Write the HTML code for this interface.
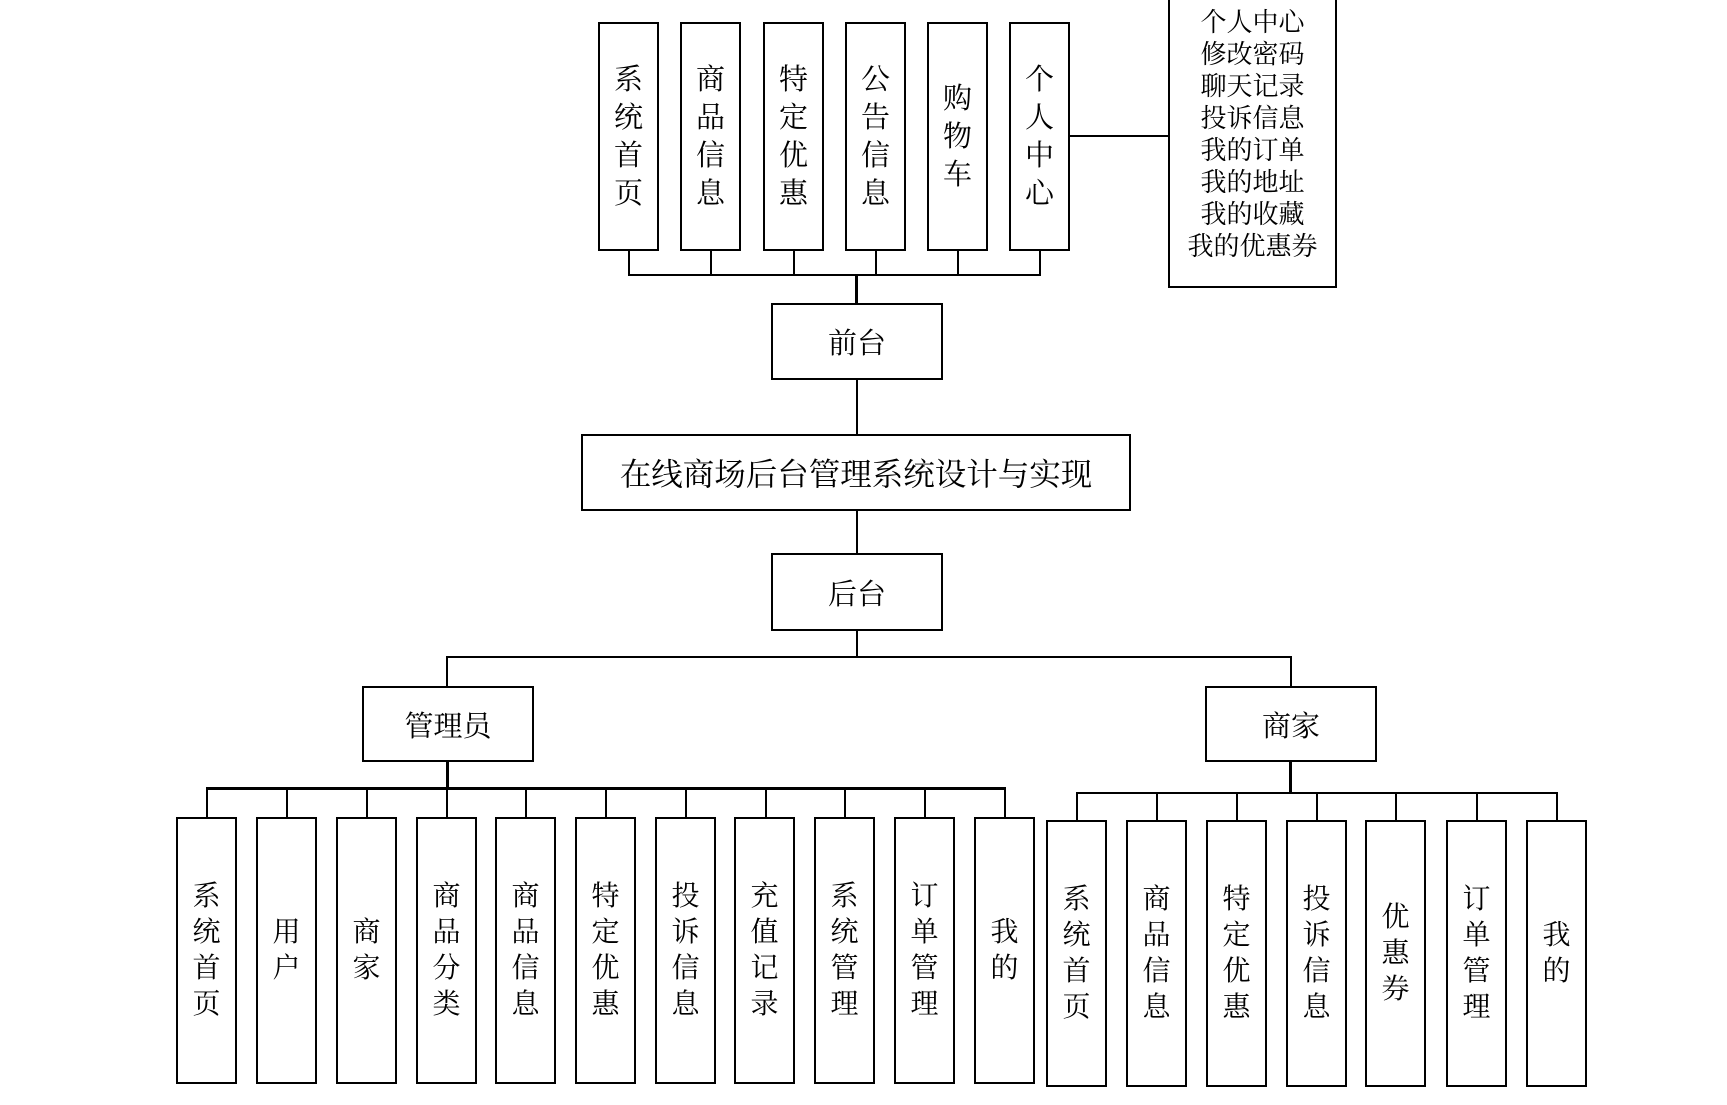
<!DOCTYPE html>
<html><head><meta charset="utf-8"><style>
body{margin:0;width:1727px;height:1105px;background:#fff;position:relative;overflow:hidden;font-family:"Liberation Serif","Noto Serif CJK SC",serif;color:#000}
.b{position:absolute;box-sizing:border-box;border:2px solid #000;display:flex;flex-direction:column;align-items:center;justify-content:center;text-align:center}
.l{position:absolute;background:#000}
.t{font-size:29px;line-height:38px;width:61px;height:229px;top:22px}
.a{font-size:28px;line-height:36px;width:61px;height:267px;top:817px}
.m{font-size:28px;line-height:36px;width:61px;height:267px;top:820px}
.h{font-size:29px}
</style></head><body>
<div class="b t" style="left:598px"><div>系</div><div>统</div><div>首</div><div>页</div></div>
<div class="b t" style="left:680px"><div>商</div><div>品</div><div>信</div><div>息</div></div>
<div class="b t" style="left:763px"><div>特</div><div>定</div><div>优</div><div>惠</div></div>
<div class="b t" style="left:845px"><div>公</div><div>告</div><div>信</div><div>息</div></div>
<div class="b t" style="left:927px"><div>购</div><div>物</div><div>车</div></div>
<div class="b t" style="left:1009px"><div>个</div><div>人</div><div>中</div><div>心</div></div>
<div class="b" style="left:1168px;top:-3px;width:169px;height:291px;font-size:26px;line-height:32px;justify-content:flex-start;padding-top:8px">
<div>个人中心</div><div>修改密码</div><div>聊天记录</div><div>投诉信息</div><div>我的订单</div><div>我的地址</div><div>我的收藏</div><div>我的优惠券</div></div>
<div class="l" style="left:1070px;top:135px;width:98px;height:2px"></div>
<div class="l" style="left:628px;top:250px;width:2px;height:25px"></div>
<div class="l" style="left:710px;top:250px;width:2px;height:25px"></div>
<div class="l" style="left:793px;top:250px;width:2px;height:25px"></div>
<div class="l" style="left:875px;top:250px;width:2px;height:25px"></div>
<div class="l" style="left:957px;top:250px;width:2px;height:25px"></div>
<div class="l" style="left:1039px;top:250px;width:2px;height:25px"></div>
<div class="l" style="left:628px;top:274px;width:413px;height:2px"></div>
<div class="l" style="left:855px;top:274px;width:3px;height:30px"></div>
<div class="b h" style="left:771px;top:303px;width:172px;height:77px">前台</div>
<div class="l" style="left:856px;top:379px;width:2px;height:56px"></div>
<div class="b" style="left:581px;top:434px;width:550px;height:77px;font-size:31.5px">在线商场后台管理系统设计与实现</div>
<div class="l" style="left:856px;top:510px;width:2px;height:44px"></div>
<div class="b h" style="left:771px;top:553px;width:172px;height:78px">后台</div>
<div class="l" style="left:856px;top:630px;width:2px;height:28px"></div>
<div class="l" style="left:446px;top:656px;width:846px;height:2px"></div>
<div class="l" style="left:446px;top:656px;width:2px;height:31px"></div>
<div class="l" style="left:1290px;top:656px;width:2px;height:31px"></div>
<div class="b h" style="left:362px;top:686px;width:172px;height:76px">管理员</div>
<div class="b h" style="left:1205px;top:686px;width:172px;height:76px">商家</div>
<div class="l" style="left:446px;top:761px;width:3px;height:28px"></div>
<div class="l" style="left:206px;top:787px;width:800px;height:3px"></div>
<div class="l" style="left:206px;top:788px;width:2px;height:30px"></div>
<div class="l" style="left:286px;top:788px;width:2px;height:30px"></div>
<div class="l" style="left:366px;top:788px;width:2px;height:30px"></div>
<div class="l" style="left:446px;top:788px;width:2px;height:30px"></div>
<div class="l" style="left:525px;top:788px;width:2px;height:30px"></div>
<div class="l" style="left:605px;top:788px;width:2px;height:30px"></div>
<div class="l" style="left:685px;top:788px;width:2px;height:30px"></div>
<div class="l" style="left:765px;top:788px;width:2px;height:30px"></div>
<div class="l" style="left:844px;top:788px;width:2px;height:30px"></div>
<div class="l" style="left:924px;top:788px;width:2px;height:30px"></div>
<div class="l" style="left:1004px;top:788px;width:2px;height:30px"></div>
<div class="b a" style="left:176px"><div>系</div><div>统</div><div>首</div><div>页</div></div>
<div class="b a" style="left:256px"><div>用</div><div>户</div></div>
<div class="b a" style="left:336px"><div>商</div><div>家</div></div>
<div class="b a" style="left:416px"><div>商</div><div>品</div><div>分</div><div>类</div></div>
<div class="b a" style="left:495px"><div>商</div><div>品</div><div>信</div><div>息</div></div>
<div class="b a" style="left:575px"><div>特</div><div>定</div><div>优</div><div>惠</div></div>
<div class="b a" style="left:655px"><div>投</div><div>诉</div><div>信</div><div>息</div></div>
<div class="b a" style="left:734px"><div>充</div><div>值</div><div>记</div><div>录</div></div>
<div class="b a" style="left:814px"><div>系</div><div>统</div><div>管</div><div>理</div></div>
<div class="b a" style="left:894px"><div>订</div><div>单</div><div>管</div><div>理</div></div>
<div class="b a" style="left:974px"><div>我</div><div>的</div></div>
<div class="l" style="left:1289px;top:761px;width:3px;height:32px"></div>
<div class="l" style="left:1076px;top:792px;width:482px;height:2px"></div>
<div class="l" style="left:1076px;top:792px;width:2px;height:30px"></div>
<div class="l" style="left:1156px;top:792px;width:2px;height:30px"></div>
<div class="l" style="left:1236px;top:792px;width:2px;height:30px"></div>
<div class="l" style="left:1316px;top:792px;width:2px;height:30px"></div>
<div class="l" style="left:1395px;top:792px;width:2px;height:30px"></div>
<div class="l" style="left:1476px;top:792px;width:2px;height:30px"></div>
<div class="l" style="left:1556px;top:792px;width:2px;height:30px"></div>
<div class="b m" style="left:1046px"><div>系</div><div>统</div><div>首</div><div>页</div></div>
<div class="b m" style="left:1126px"><div>商</div><div>品</div><div>信</div><div>息</div></div>
<div class="b m" style="left:1206px"><div>特</div><div>定</div><div>优</div><div>惠</div></div>
<div class="b m" style="left:1286px"><div>投</div><div>诉</div><div>信</div><div>息</div></div>
<div class="b m" style="left:1365px"><div>优</div><div>惠</div><div>券</div></div>
<div class="b m" style="left:1446px"><div>订</div><div>单</div><div>管</div><div>理</div></div>
<div class="b m" style="left:1526px"><div>我</div><div>的</div></div>
</body></html>
